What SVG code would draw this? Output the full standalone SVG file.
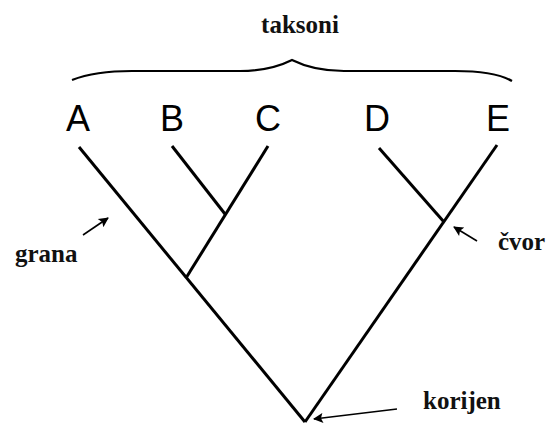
<svg xmlns="http://www.w3.org/2000/svg" width="550" height="423" viewBox="0 0 550 423">
<style>
.taxon{font-family:"Liberation Sans",Arial,sans-serif;font-size:36px;fill:#000;text-anchor:middle}
.lbl{font-family:"Liberation Serif","Times New Roman",serif;font-weight:bold;font-size:25px;fill:#111}
.branch{stroke:#000;stroke-width:3;fill:none;stroke-linecap:butt}
.pointer{stroke:#000;stroke-width:1.6;fill:none}
</style>
<defs>
<marker id="ah" viewBox="0 0 10 10" refX="9" refY="5" markerWidth="7" markerHeight="7" markerUnits="userSpaceOnUse" orient="auto">
<path d="M0,0 L10,5 L0,10 Z" fill="#000"/>
</marker>
<marker id="ah2" viewBox="0 0 10 10" refX="9" refY="5" markerWidth="12" markerHeight="10" markerUnits="userSpaceOnUse" orient="auto">
<path d="M0,0 L10,5 L0,10 L2,5 Z" fill="#000"/>
</marker>
</defs>
<rect width="550" height="423" fill="#fff"/>
<g id="title">
<text class="lbl" x="300" y="33" text-anchor="middle">taksoni</text>
<path d="M72,80 C90,73 110,71 132,71 L240,71 C265,71 280,66 292,60 C304,66 319,71 344,71 L455,71 C480,71 500,74 512,81" stroke="#000" stroke-width="2.2" fill="none"/>
</g>
<g id="taxon-A"><text class="taxon" x="78" y="131">A</text></g>
<g id="taxon-B"><text class="taxon" x="172" y="131">B</text></g>
<g id="taxon-C"><text class="taxon" x="268" y="131">C</text></g>
<g id="taxon-D"><text class="taxon" x="377" y="131">D</text></g>
<g id="taxon-E"><text class="taxon" x="498" y="131">E</text></g>
<g id="connectors">
<path class="branch" d="M79,147 L305,422"/>
<path class="branch" d="M497,145 L305,422"/>
<path class="branch" d="M172,146 L225,214"/>
<path class="branch" d="M268,146 L186,278"/>
<path class="branch" d="M379,148 L444,222"/>
</g>
<g id="label-grana">
<text class="lbl" x="15" y="262">grana</text>
<path class="pointer" d="M83,235 L108,218" marker-end="url(#ah2)"/>
</g>
<g id="label-cvor">
<text class="lbl" x="498" y="250">čvor</text>
<path class="pointer" d="M477,241 L454,227" marker-end="url(#ah2)"/>
</g>
<g id="label-korijen">
<text class="lbl" x="423" y="409">korijen</text>
<path class="pointer" d="M397,409 L314,419" marker-end="url(#ah2)"/>
</g>
</svg>
